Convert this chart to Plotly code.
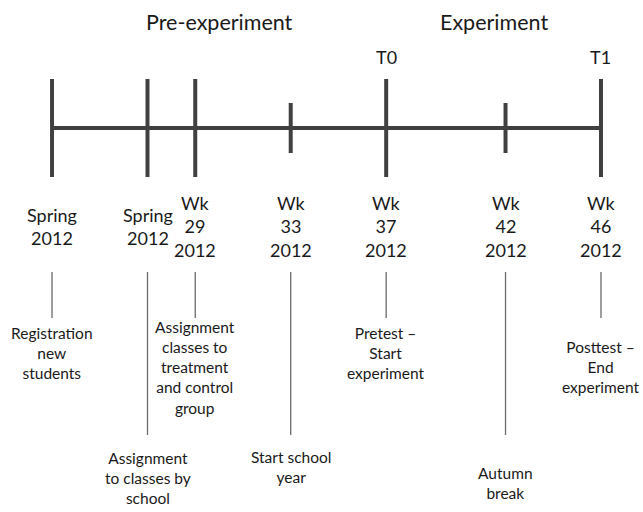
import plotly.graph_objects as go

# ---- data ----
weeks = [23, 27, 29, 33, 37, 42, 46]          # position on timeline (week of 2012)
major = [True, True, True, False, True, False, True]
date_labels = ["Spring<br>2012", "Spring<br>2012", "Wk<br>29<br>2012", "Wk<br>33<br>2012",
               "Wk<br>37<br>2012", "Wk<br>42<br>2012", "Wk<br>46<br>2012"]
event_labels = ["Registration<br>new<br>students",
                "Assignment<br>to classes by<br>school",
                "Assignment<br>classes to<br>treatment<br>and control<br>group",
                "Start school<br>year",
                "Pretest –<br>Start<br>experiment",
                "Autumn<br>break",
                "Posttest –<br>End<br>experiment"]
phase_labels = ["Pre-experiment", "Experiment"]
phase_centers = [30.0, 41.5]
measure_labels = ["T0", "T1"]
measure_weeks = [37, 46]

# ---- layout constants (pixel-like y units, 0 at top) ----
event_row = [0, 1, 0, 1, 0, 1, 0]      # 0 = short connector, 1 = long connector
event_y = [353, 478, 367, 467, 353, 483, 367]

FONT = "Lato"
LINE = "#404040"
TXT = "#1a1a1a"

fig = go.Figure()

# main horizontal line
fig.add_trace(go.Scatter(x=[weeks[0], weeks[-1]], y=[128, 128], mode="lines",
                         line=dict(color=LINE, width=4), hoverinfo="skip"))

# tick marks
tx, ty = [], []
for w, m in zip(weeks, major):
    if m:
        tx += [w, w, None]; ty += [79, 177, None]
    else:
        tx += [w, w, None]; ty += [103, 153, None]
fig.add_trace(go.Scatter(x=tx, y=ty, mode="lines", line=dict(color=LINE, width=4),
                         hoverinfo="skip"))

# connectors
cx, cy = [], []
for w, r in zip(weeks, event_row):
    cx += [w, w, None]
    cy += [272, 318 if r == 0 else 435, None]
fig.add_trace(go.Scatter(x=cx, y=cy, mode="lines", line=dict(color="#6a6a6a", width=1.3),
                         hoverinfo="skip"))

ann = []
for w, d in zip(weeks, date_labels):
    ann.append(dict(x=w, y=226, text=d, showarrow=False, xanchor="center", yanchor="middle",
                    font=dict(family=FONT, size=18, color=TXT)))
for w, e, y in zip(weeks, event_labels, event_y):
    ann.append(dict(x=w, y=y, text=e, showarrow=False, xanchor="center", yanchor="middle",
                    font=dict(family=FONT, size=15.5, color=TXT)))
for c, p in zip(phase_centers, phase_labels):
    ann.append(dict(x=c, y=22, text=p, showarrow=False, xanchor="center", yanchor="middle",
                    font=dict(family=FONT, size=21.5, color=TXT)))
for w, t in zip(measure_weeks, measure_labels):
    ann.append(dict(x=w, y=57, text=t, showarrow=False, xanchor="center", yanchor="middle",
                    font=dict(family=FONT, size=18, color=TXT)))

fig.update_layout(
    width=643, height=512, margin=dict(l=0, r=0, t=0, b=0),
    paper_bgcolor="white", plot_bgcolor="white", showlegend=False,
    xaxis=dict(range=[20.82, 47.76], visible=False, fixedrange=True),
    yaxis=dict(range=[512, 0], visible=False, fixedrange=True),
    annotations=ann,
)
fig.write_html("out.html", config={"displayModeBar": False},
               post_script="document.body.style.margin='0';document.body.style.overflow='hidden';")
